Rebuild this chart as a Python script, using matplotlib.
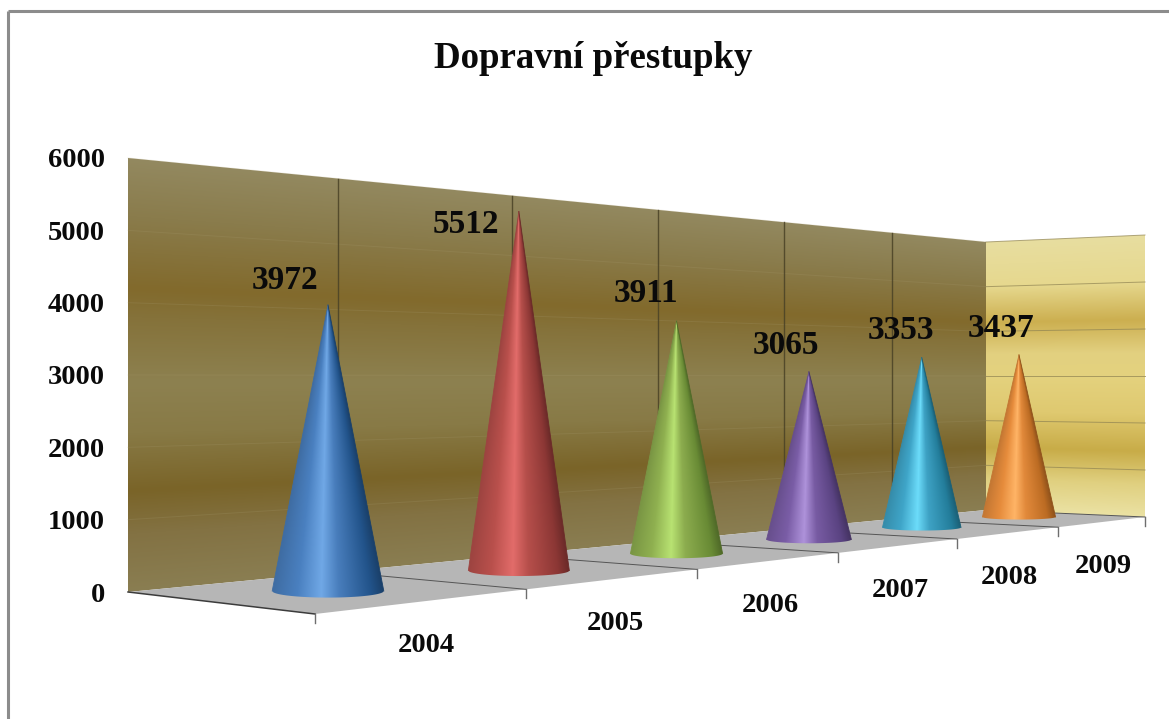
import numpy as np
import matplotlib
matplotlib.use('Agg')
import matplotlib.pyplot as plt
from matplotlib.colors import to_rgb

# values
years = ['2004', '2005', '2006', '2007', '2008', '2009']
counts = [3972, 5512, 3911, 3065, 3353, 3437]
y_ticks = [0, 1000, 2000, 3000, 4000, 5000, 6000]
Y_MAX = 6000
CONE_RADIUS = 775

# cone shading: dark side, mid, highlight
cone_dark = ['#1f4c7e', '#7f3230', '#5f7e30', '#523d76', '#20728d', '#ab6220']
cone_mid = ['#4a80c0', '#b9504c', '#8fb050', '#7a5da6', '#3fa5c8', '#e68c3c']
cone_light = ['#70a8e6', '#e26c6a', '#b8e272', '#ae92da', '#6cdcfa', '#ffb466']
label_offset = [(-43, -25), (-53, 13), (-31, -28), (-23, -26), (-21, -27), (-18, -26)]

wall_stops = [0, 800, 1400, 2200, 2900, 3800, 4200, 5200, 6000]
wall_colors = ['#8a7e52', '#837243', '#7a6428', '#887a46', '#8d8150',
               '#85723a', '#826a2c', '#8a7c4c', '#938960']
side_stops = [0, 700, 1400, 2200, 3000, 3500, 4200, 5000, 6000]
side_colors = ['#ebe2a4', '#e0d080', '#c8ac48', '#dfc970', '#e4d27e',
               '#e2d080', '#ccaf50', '#e6d88e', '#e8dea0']


def homography(src, dst):
    # plain DLT, 4 point pairs
    rows = []
    for (u, v), (x, y) in zip(src, dst):
        rows.append([u, v, 1, 0, 0, 0, -u * x, -v * x, -x])
        rows.append([0, 0, 0, u, v, 1, -u * y, -v * y, -y])
    return np.linalg.svd(np.array(rows, float))[2][-1].reshape(3, 3)


def project(H, u, v):
    p = H @ np.array([u, v, 1.0])
    return p[0] / p[2], p[1] / p[2]


n = len(years)
wall_H = homography([(0, 0), (n, 0), (n, Y_MAX), (0, Y_MAX)],
                    [(128, 592), (986, 510), (986, 242), (128, 158)])
cone_H = homography([(0.5, 0), (n - 0.5, 0), (n - 0.5, Y_MAX), (0.5, Y_MAX)],
                    [(328, 591), (1019, 517), (1019, 234), (328, 159)])
side_H = homography([(0, 0), (1, 0), (1, Y_MAX), (0, Y_MAX)],
                    [(986, 510), (1145, 517), (1145, 235), (986, 242)])


def front_point(u):
    # front floor edge has its own foreshortening
    q = 0.1173
    t = (u / n) * (1 + q * n) / (1 + q * u)
    return 315 + 830 * t, 614 - 97 * t


fig = plt.figure(figsize=(11.69, 7.19), dpi=100)
ax = fig.add_axes([0, 0, 1, 1])
ax.set_xlim(0, 1169)
ax.set_ylim(719, 0)
ax.autoscale(False)
ax.axis('off')
plt.rcParams['font.family'] = ['Liberation Serif', 'DejaVu Serif']


def paint(polygon, colour_func, zorder):
    pts = np.array(polygon)
    x0, y0 = np.floor(pts.min(axis=0)).astype(int) - 1
    x1, y1 = np.ceil(pts.max(axis=0)).astype(int) + 1
    xx, yy = np.meshgrid(np.arange(x0, x1) + 0.5, np.arange(y0, y1) + 0.5)
    im = ax.imshow(colour_func(xx, yy), extent=(x0, x1, y1, y0), aspect='auto',
                   interpolation='bilinear', zorder=zorder)
    im.set_clip_path(plt.Polygon(polygon, transform=ax.transData))


def wall_colours(H, stops, colors):
    inv = np.linalg.inv(H)
    rgb = np.array([to_rgb(c) for c in colors])

    def func(xx, yy):
        w = inv[2, 0] * xx + inv[2, 1] * yy + inv[2, 2]
        v = (inv[1, 0] * xx + inv[1, 1] * yy + inv[1, 2]) / w
        return np.dstack([np.interp(v, stops, rgb[:, i]) for i in range(3)])
    return func


def draw_cone(i, value):
    u = i + 0.5
    cx, cy = project(cone_H, u, 0)
    tx, ty = project(cone_H, u, value)
    px_per_unit = (cy - project(cone_H, u, Y_MAX)[1]) / Y_MAX
    a = CONE_RADIUS * px_per_unit
    b = a * (0.118 - 0.0096 * i)
    s = np.linspace(-1, 1, 121)
    arc = np.column_stack([cx + a * s, cy + b * np.sqrt(1 - s ** 2)])
    dark, mid, light = [np.array(to_rgb(c[i])) for c in (cone_dark, cone_mid, cone_light)]
    anchors = np.array([mid * 0.85, mid, light, mid * 0.98, dark * 1.1, dark * 0.85])
    pos = [-1, -0.55, -0.12, 0.2, 0.78, 1]

    def func(xx, yy):
        sp = (xx - tx) / (a * np.clip(yy - ty, 0.5, None) / (cy + b * 0.7 - ty))
        return np.dstack([np.interp(sp, pos, anchors[:, c]) for c in range(3)]).clip(0, 1)

    paint([(tx, ty)] + [tuple(p) for p in arc], func, 5 + i)
    ax.plot([tx, arc[0, 0]], [ty, arc[0, 1]], color=anchors[0], lw=0.6, zorder=5 + i)
    ax.plot([tx, arc[-1, 0]], [ty, arc[-1, 1]], color=anchors[-1], lw=0.6, zorder=5 + i)
    ox, oy = label_offset[i]
    ax.text(tx + ox, ty + oy, str(value), fontsize=24, fontweight='bold', ha='center', va='center',
            color='#0a0a0a', zorder=20)


# frame, only top and left edge are in the crop
ax.plot([8, 8], [719, 11], color='#8c8c8c', lw=2.2, zorder=0, solid_capstyle='butt')
ax.plot([8, 1169], [11, 11], color='#8c8c8c', lw=2.2, zorder=0, solid_capstyle='butt')

ax.text(593, 59, 'Dopravní přestupky', fontsize=26.6, fontweight='bold', ha='center', va='center', color='#0a0a0a')

# walls
wall_corners = [project(wall_H, 0, 0), project(wall_H, n, 0), project(wall_H, n, Y_MAX), project(wall_H, 0, Y_MAX)]
side_corners = [project(side_H, 0, 0), project(side_H, 1, 0), project(side_H, 1, Y_MAX), project(side_H, 0, Y_MAX)]
paint(wall_corners, wall_colours(wall_H, wall_stops, wall_colors), 1)
paint(side_corners, wall_colours(side_H, side_stops, side_colors), 1)
for v in y_ticks[1:]:
    x0, y0 = project(wall_H, 0, v)
    x1, y1 = project(wall_H, n, v)
    ax.plot([x0, x1], [y0, y1], color='#a89c72', lw=0.7, alpha=0.2, zorder=2)
    x2, y2 = project(side_H, 1, v)
    ax.plot([x1, x2], [y1, y2], color='#8f8352', lw=0.7, alpha=0.7, zorder=2)
for k in range(1, n):
    x0, y0 = project(wall_H, k, 0)
    x1, y1 = project(wall_H, k, Y_MAX)
    ax.plot([x0, x1], [y0, y1], color='#4a4226', lw=1.0, alpha=0.85, zorder=2)

# floor
ax.add_patch(plt.Polygon([project(wall_H, 0, 0), project(wall_H, n, 0), front_point(n), front_point(0)],
                         facecolor='#b6b6b6', edgecolor='none', zorder=3))
for k in range(n + 1):
    x0, y0 = project(wall_H, k, 0)
    x1, y1 = front_point(k)
    ax.plot([x0, x1], [y0, y1], color='#3c3c3c' if k == 0 else '#555555', lw=1.1 if k == 0 else 0.7, zorder=4)
    ax.plot([x1, x1], [y1, y1 + 9], color='#6e6e6e', lw=1.0, zorder=4)

# tick labels
for v in y_ticks:
    x, y = project(wall_H, 0, v)
    ax.text(x - 23, y + 3, str(v), fontsize=20.5, fontweight='bold', ha='right', va='center', color='#0a0a0a')
for k, name in enumerate(years):
    x, y = front_point(k + 0.5)
    ax.text(x, y + 45, name, fontsize=20.5, fontweight='bold', ha='center', va='center', color='#0a0a0a')

for i, value in enumerate(counts):
    draw_cone(i, value)

fig.savefig('out.png', dpi=100, facecolor='white')
